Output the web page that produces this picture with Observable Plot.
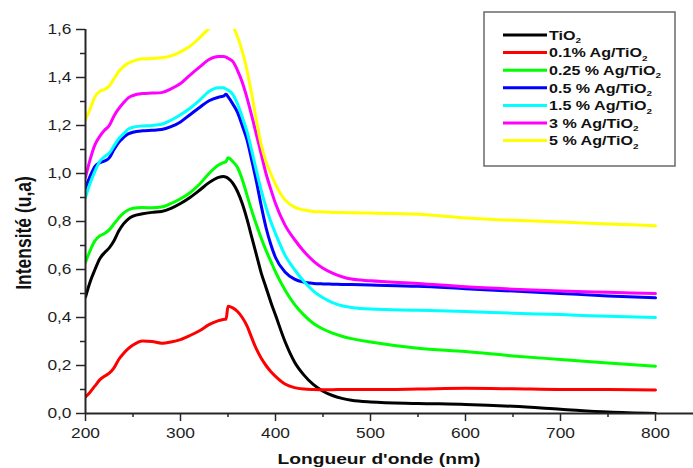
<!DOCTYPE html>
<html><head><meta charset="utf-8">
<script src="https://cdn.jsdelivr.net/npm/d3@7"></script>
<script src="https://cdn.jsdelivr.net/npm/@observablehq/plot@0.6"></script>
<style>body{margin:0;background:#fff;}</style>
</head><body><div id="chart"></div>
<script>
const wavelengths = [200,205,210,215,220,225,230,235,240,245,250,260,270,280,290,300,310,320,330,340,345,348,350,355,360,365,370,375,380,385,390,395,400,410,420,430,440,450,460,470,480,500,550,600,650,700,750,800];
const tio2 = [0.485,0.55,0.60,0.645,0.67,0.69,0.72,0.76,0.79,0.81,0.822,0.832,0.838,0.842,0.855,0.875,0.90,0.93,0.962,0.984,0.988,0.985,0.98,0.96,0.925,0.875,0.81,0.735,0.66,0.585,0.525,0.465,0.41,0.30,0.215,0.16,0.12,0.093,0.075,0.063,0.055,0.048,0.042,0.038,0.03,0.018,0.006,0.0];
const ag01 = [0.069,0.09,0.115,0.14,0.155,0.168,0.19,0.225,0.25,0.27,0.285,0.302,0.30,0.293,0.298,0.308,0.325,0.345,0.37,0.387,0.392,0.393,0.447,0.44,0.425,0.40,0.365,0.315,0.268,0.23,0.20,0.175,0.155,0.123,0.108,0.102,0.10,0.099,0.099,0.10,0.10,0.10,0.102,0.105,0.103,0.10,0.10,0.098];
const ag025 = [0.63,0.68,0.72,0.74,0.75,0.765,0.79,0.815,0.835,0.848,0.855,0.858,0.857,0.86,0.875,0.895,0.92,0.955,1.0,1.035,1.045,1.05,1.066,1.05,1.025,0.975,0.91,0.845,0.785,0.73,0.68,0.635,0.59,0.515,0.455,0.41,0.375,0.352,0.335,0.322,0.312,0.298,0.272,0.258,0.24,0.225,0.21,0.197];
const ag05 = [0.94,0.99,1.03,1.045,1.052,1.065,1.10,1.13,1.15,1.165,1.172,1.178,1.18,1.183,1.195,1.215,1.245,1.275,1.303,1.318,1.322,1.33,1.32,1.29,1.255,1.20,1.14,1.055,0.965,0.865,0.775,0.705,0.65,0.59,0.56,0.547,0.542,0.54,0.539,0.538,0.537,0.535,0.53,0.52,0.51,0.50,0.49,0.482];
const ag15 = [0.90,0.96,1.01,1.05,1.07,1.085,1.115,1.145,1.165,1.185,1.193,1.198,1.20,1.205,1.222,1.245,1.272,1.305,1.342,1.357,1.357,1.352,1.347,1.33,1.29,1.235,1.175,1.095,1.01,0.93,0.86,0.80,0.75,0.66,0.60,0.55,0.51,0.482,0.462,0.449,0.442,0.435,0.43,0.425,0.418,0.412,0.405,0.40];
const ag3 = [0.985,1.06,1.12,1.155,1.18,1.2,1.24,1.27,1.295,1.315,1.325,1.333,1.335,1.337,1.353,1.375,1.41,1.443,1.475,1.488,1.488,1.485,1.48,1.467,1.43,1.38,1.315,1.24,1.16,1.08,1.0,0.935,0.875,0.785,0.725,0.675,0.635,0.605,0.585,0.57,0.56,0.553,0.542,0.528,0.518,0.51,0.505,0.50];
const ag5 = [1.225,1.27,1.32,1.342,1.35,1.365,1.395,1.425,1.445,1.46,1.468,1.478,1.479,1.482,1.49,1.507,1.53,1.565,1.605,1.64,1.65,1.648,1.645,1.615,1.57,1.51,1.43,1.33,1.22,1.12,1.05,1.0,0.955,0.89,0.86,0.848,0.842,0.84,0.838,0.837,0.836,0.835,0.83,0.815,0.805,0.798,0.79,0.782];

const seriesNames = ["TiO2", "0.1% Ag/TiO2", "0.25 % Ag/TiO2", "0.5 % Ag/TiO2", "1.5 % Ag/TiO2", "3 % Ag/TiO2", "5 % Ag/TiO2"];
const seriesValues = [tio2, ag01, ag025, ag05, ag15, ag3, ag5];
const seriesColors = ["#000000", "#ff0000", "#00ff00", "#0000ff", "#00ffff", "#ff00ff", "#ffff00"];

const xTicks = [200, 300, 400, 500, 600, 700, 800];
const xTickLabels = ["200", "300", "400", "500", "600", "700", "800"];
const xMinorTicks = [250, 350, 450, 550, 650, 750];
const yTicks = [0, 0.2, 0.4, 0.6, 0.8, 1.0, 1.2, 1.4, 1.6];
const yTickLabels = ["0,0", "0,2", "0,4", "0,6", "0,8", "1,0", "1,2", "1,4", "1,6"];
const yMinorTicks = [0.1, 0.3, 0.5, 0.7, 0.9, 1.1, 1.3, 1.5];
const xTitle = "Longueur d'onde (nm)";
const yTitle = "Intensité (u,a)";

const rows = seriesNames.flatMap((s, i) => wavelengths.map((wl, j) => ({series: s, wl, v: seriesValues[i][j]})));

const axisColor = "#262626";
const chart = Plot.plot({
  width: 693, height: 468,
  marginLeft: 85, marginRight: 0, marginTop: 29, marginBottom: 55,
  style: {fontFamily: "'Liberation Sans', Arial, sans-serif", fontSize: "14px", color: "#1e1e1e", background: "#fff"},
  x: {domain: [200, 840]},
  y: {domain: [0, 1.6]},
  color: {domain: seriesNames, range: seriesColors},
  marks: [
    Plot.line(rows, {x: "wl", y: "v", z: "series", stroke: "series", strokeWidth: 3, curve: "monotone-x", clip: true}),
    Plot.axisX(xMinorTicks, {tickSize: 4, tickFormat: () => "", label: null, stroke: axisColor, strokeWidth: 1.5}),
    Plot.axisX(xTicks, {tickSize: 8, tickPadding: 7, tickFormat: d => xTickLabels[xTicks.indexOf(d)], label: null, stroke: axisColor, strokeWidth: 1.5}),
    Plot.axisY(yMinorTicks, {tickSize: 5, tickFormat: () => "", label: null, stroke: axisColor, strokeWidth: 1.5}),
    Plot.axisY(yTicks, {tickSize: 9, tickPadding: 5, tickFormat: d => yTickLabels[yTicks.indexOf(d)], label: null, stroke: axisColor, strokeWidth: 1.5}),
    Plot.ruleY([0], {stroke: axisColor, strokeWidth: 2}),
    Plot.ruleX([200], {stroke: axisColor, strokeWidth: 2})
  ]
});
document.getElementById("chart").appendChild(chart);

const svg = d3.select(chart.tagName.toLowerCase() === "svg" ? chart : chart.querySelector("svg"));
const SX = 1.24;
svg.selectAll('g[aria-label="x-axis tick label"] text, g[aria-label="y-axis tick label"] text').each(function() {
  const t = this.getAttribute("transform");
  if (t) this.setAttribute("transform", t + ` scale(${SX},1)`);
  else {
    const x = +this.getAttribute("x") || 0, y = +this.getAttribute("y") || 0;
    this.removeAttribute("x"); this.removeAttribute("y");
    this.setAttribute("transform", `translate(${x},${y}) scale(${SX},1)`);
  }
});

// axis titles
svg.append("text")
  .attr("transform", `translate(379,464) scale(${SX},1)`)
  .attr("text-anchor", "middle")
  .attr("font-weight", "bold").attr("font-size", 15.5).attr("fill", "#111")
  .text(xTitle);
svg.append("text")
  .attr("transform", `translate(31,233) rotate(-90) scale(1,${SX})`)
  .attr("text-anchor", "middle")
  .attr("font-weight", "bold").attr("font-size", 17.5).attr("fill", "#111")
  .text(yTitle);

// legend
const lg = svg.append("g");
lg.append("rect").attr("x", 484).attr("y", 12).attr("width", 191).attr("height", 154)
  .attr("fill", "#fff").attr("stroke", "#6a6a6a").attr("stroke-width", 1.5);
seriesNames.forEach((name, i) => {
  const y = 35 + i * 17.6;
  lg.append("line").attr("x1", 503).attr("x2", 547).attr("y1", y).attr("y2", y)
    .attr("stroke", seriesColors[i]).attr("stroke-width", 3);
  const t = lg.append("text")
    .attr("transform", `translate(549,${y + 4.7}) scale(${SX},1)`)
    .attr("text-anchor", "start")
    .attr("font-weight", "bold").attr("font-size", 13).attr("fill", "#111");
  t.append("tspan").text(name.slice(0, -1));
  t.append("tspan").attr("font-size", 8).attr("dy", 3.5).text(name.slice(-1));
});
</script>
</body></html>
